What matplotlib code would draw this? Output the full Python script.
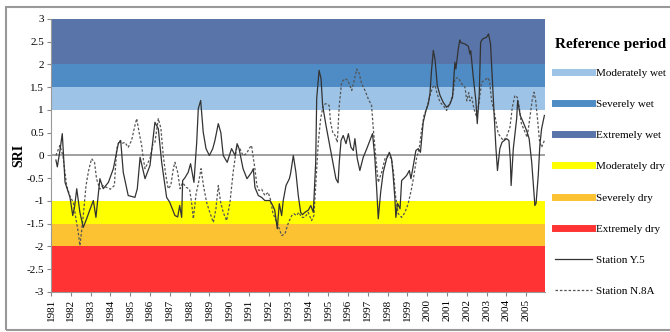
import matplotlib.pyplot as plt
from matplotlib.lines import Line2D
from matplotlib.patches import Rectangle

plt.rcParams["font.family"] = ["Liberation Serif", "DejaVu Serif"]

# SRI classes (lower, upper, colour, label)
class_labels = ["Moderately wet", "Severely wet", "Extremely wet",
                "Moderately dry", "Severely dry", "Extremely dry"]
class_low = [1.0, 1.5, 2.0, -1.5, -2.0, -3.0]
class_high = [1.5, 2.0, 3.0, -1.0, -1.5, -2.0]
class_colors = ["#9DC3E6", "#4F8BC4", "#5874A8", "#FFFF00", "#FDC232", "#FF3333"]

years = list(range(1981, 2006))

# Station Y.5 (solid)
y5_t = [1981.25, 1981.32, 1981.45, 1981.57, 1981.71, 1981.96, 1982.1, 1982.2, 1982.3,
        1982.46, 1982.63, 1982.8, 1983.0, 1983.14, 1983.27, 1983.47, 1983.64, 1983.9,
        1984.15, 1984.4, 1984.52, 1984.65, 1984.9, 1985.24, 1985.36, 1985.5, 1985.75,
        1986.0, 1986.2, 1986.25, 1986.42, 1986.59, 1986.84, 1987.0, 1987.26, 1987.4,
        1987.5, 1987.6, 1987.65, 1987.75, 1987.93, 1988.05, 1988.22, 1988.36, 1988.44,
        1988.56, 1988.69, 1988.83, 1989.0, 1989.17, 1989.28, 1989.45, 1989.58, 1989.7,
        1989.9, 1990.12, 1990.3, 1990.4, 1990.5, 1990.7, 1990.9, 1991.13, 1991.22,
        1991.3, 1991.47, 1991.64, 1991.8, 1992.06, 1992.2, 1992.3, 1992.43, 1992.53,
        1992.65, 1992.73, 1992.87, 1993.04, 1993.1, 1993.24, 1993.37, 1993.49, 1993.61,
        1993.7, 1993.82, 1994.0, 1994.12, 1994.25, 1994.37, 1994.42, 1994.54, 1994.64,
        1994.72, 1994.89, 1995.06, 1995.23, 1995.39, 1995.5, 1995.56, 1995.65, 1995.76,
        1995.9, 1996.02, 1996.15, 1996.27, 1996.35, 1996.47, 1996.6, 1996.77, 1996.95,
        1997.11, 1997.24, 1997.36, 1997.45, 1997.53, 1997.65, 1997.78, 1997.95, 1998.09,
        1998.2, 1998.27, 1998.37, 1998.42, 1998.5, 1998.63, 1998.71, 1998.83, 1998.96,
        1999.1, 1999.18, 1999.3, 1999.43, 1999.55, 1999.66, 1999.8, 1999.94, 2000.06,
        2000.14, 2000.22, 2000.31, 2000.4, 2000.51, 2000.65, 2000.81, 2000.98, 2001.15,
        2001.28, 2001.4, 2001.45, 2001.57, 2001.65, 2001.7, 2001.91, 2002.08, 2002.16,
        2002.2, 2002.33, 2002.46, 2002.53, 2002.63, 2002.7, 2002.8, 2003.0, 2003.1,
        2003.2, 2003.3, 2003.38, 2003.47, 2003.55, 2003.67, 2003.78, 2004.01, 2004.13,
        2004.2, 2004.24, 2004.35, 2004.52, 2004.57, 2004.7, 2004.85, 2005.02, 2005.15,
        2005.28, 2005.44, 2005.5, 2005.61, 2005.69, 2005.78, 2005.92]
y5_v = [-0.1, -0.25, 0.1, 0.48, -0.59, -0.92, -1.32, -1.1, -0.73,
        -1.25, -1.58, -1.39, -1.15, -0.99, -1.36, -0.51, -0.73, -0.59,
        -0.29, 0.26, 0.33, -0.37, -0.88, -0.92, -0.73, -0.04, -0.51,
        -0.22, 0.55, 0.73, 0.59, -0.15, -0.92, -1.03, -1.32, -1.35,
        -1.1, -1.36, -0.55, -0.5, -0.37, -0.18, -0.59, 0.29, 1.03,
        1.21, 0.51, 0.15, 0.0, 0.15, 0.33, 0.7, 0.5, 0.0,
        -0.15, 0.15, 0.0, 0.26, 0.15, -0.29, -0.51, -0.37, -0.29,
        -0.7, -0.88, -0.92, -0.99, -0.99, -1.1, -1.2, -1.61, -1.06,
        -1.32, -0.99, -0.66, -0.51, -0.4, 0.0, -0.37, -0.88, -1.25,
        -1.3, -1.25, -1.2, -1.1, -1.25, -0.15, 1.25, 1.87, 1.69,
        1.1, 0.66, 0.26, -0.15, -0.51, -0.6, -0.15, 0.33, 0.44,
        0.26, 0.48, 0.18, 0.11, 0.37, -0.07, -0.33, -0.04, 0.15,
        0.33, 0.48, -0.07, -0.74, -1.39, -0.81, -0.37, -0.07, 0.07,
        -0.07, -0.37, -0.95, -1.36, -1.05, -1.17, -0.55, -0.5, -0.44,
        -0.33, -0.51, -0.22, 0.11, 0.15, 0.07, 0.73, 0.99, 1.14,
        1.36, 1.87, 2.31, 2.1, 1.54, 1.32, 1.17, 1.06, 1.13,
        1.28, 2.05, 1.9, 2.34, 2.54, 2.48, 2.45, 2.4, 2.23,
        2.3, 1.72, 1.2, 0.7, 1.35, 2.49, 2.56, 2.6, 2.67,
        2.45, 1.58, 0.92, 0.18, -0.33, 0.15, 0.29, 0.37, 0.33,
        -0.1, -0.66, 0.15, 0.81, 1.21, 0.88, 0.73, 0.55, 0.37,
        -0.15, -1.1, -1.05, -0.44, 0.22, 0.59, 0.88]

# Station N.8A (dotted)
n8a_t = [1981.25, 1981.45, 1981.6, 1981.79, 1981.96, 1982.13, 1982.26, 1982.38, 1982.46,
         1982.55, 1982.63, 1982.77, 1982.9, 1983.05, 1983.2, 1983.3, 1983.47, 1983.64,
         1983.8, 1984.0, 1984.2, 1984.32, 1984.45, 1984.57, 1984.73, 1984.9, 1985.07,
         1985.24, 1985.33, 1985.45, 1985.58, 1985.66, 1985.75, 1985.87, 1986.0, 1986.15,
         1986.25, 1986.42, 1986.55, 1986.67, 1986.8, 1986.92, 1987.05, 1987.18, 1987.26,
         1987.4, 1987.52, 1987.65, 1987.83, 1988.0, 1988.1, 1988.19, 1988.33, 1988.45,
         1988.58, 1988.7, 1988.86, 1989.02, 1989.2, 1989.33, 1989.45, 1989.57, 1989.7,
         1989.87, 1990.04, 1990.2, 1990.34, 1990.41, 1990.54, 1990.7, 1990.87, 1991.05,
         1991.13, 1991.2, 1991.3, 1991.4, 1991.5, 1991.64, 1991.8, 1991.97, 1992.1,
         1992.2, 1992.4, 1992.53, 1992.65, 1992.82, 1992.94, 1993.04, 1993.16, 1993.27,
         1993.4, 1993.52, 1993.66, 1993.82, 1993.99, 1994.16, 1994.28, 1994.38, 1994.5,
         1994.62, 1994.75, 1994.88, 1995.05, 1995.12, 1995.23, 1995.35, 1995.46, 1995.56,
         1995.68, 1995.85, 1996.0, 1996.19, 1996.3, 1996.44, 1996.57, 1996.69, 1996.86,
         1997.02, 1997.19, 1997.28, 1997.41, 1997.53, 1997.7, 1997.87, 1998.04, 1998.2,
         1998.3, 1998.4, 1998.54, 1998.71, 1998.88, 1999.04, 1999.21, 1999.33, 1999.46,
         1999.6, 1999.7, 1999.84, 1999.97, 2000.14, 2000.28, 2000.4, 2000.5, 2000.65,
         2000.81, 2000.98, 2001.15, 2001.32, 2001.4, 2001.57, 2001.74, 2001.91, 2002.0,
         2002.1, 2002.16, 2002.25, 2002.36, 2002.5, 2002.63, 2002.75, 2002.92, 2003.08,
         2003.16, 2003.25, 2003.42, 2003.59, 2003.84, 2004.0, 2004.18, 2004.3, 2004.43,
         2004.55, 2004.65, 2004.76, 2004.94, 2005.05, 2005.19, 2005.3, 2005.4, 2005.48,
         2005.58, 2005.67, 2005.78, 2005.92]
n8a_v = [0.0, 0.22, 0.0, -0.66, -0.9, -1.03, -1.39, -1.7, -1.98,
         -1.65, -1.32, -0.66, -0.33, -0.07, -0.15, -0.51, -0.74, -0.66,
         -0.7, -0.74, -0.66, 0.15, 0.33, 0.26, 0.29, 0.18, 0.33,
         0.66, 0.81, 0.51, 0.22, -0.07, -0.29, -0.18, -0.07, 0.26,
         0.29, 0.81, 0.6, 0.0, -0.44, -0.73, -0.66, -0.29, -0.15,
         -0.37, -0.73, -0.6, -0.7, -0.74, -1.03, -1.39, -0.84, -0.6,
         -0.29, -0.66, -1.03, -1.25, -1.47, -1.17, -0.66, -1.03, -1.25,
         -1.43, -1.03, -0.37, 0.07, 0.22, 0.15, 0.0, 0.04, 0.18,
         0.22, 0.0, -0.29, -0.66, -0.77, -0.74, -0.88, -0.81, -0.99,
         -1.25, -1.47, -1.61, -1.76, -1.72, -1.54, -1.43, -1.32, -1.28,
         -1.32, -1.25, -1.36, -1.36, -1.25, -1.43, -1.32, -0.59, 0.29,
         0.81, 1.1, 1.14, 1.1, 0.73, 0.51, 0.44, 0.29, 1.1,
         1.61, 1.69, 1.65, 1.43, 1.62, 1.9, 1.8, 1.58, 1.43,
         1.25, 1.1, 0.59, -0.07, -0.59, -0.37, -0.07, 0.0, -0.07,
         -0.37, -0.88, -1.28, -1.36, -1.25, -1.06, -0.73, -0.44, -0.07,
         0.15, 0.51, 0.88, 1.03, 1.32, 1.5, 1.54, 1.36, 1.17,
         1.1, 0.99, 1.14, 1.39, 1.69, 1.71, 1.58, 1.5, 1.2,
         1.38, 1.2, 1.28, 1.03, 0.84, 1.2, 1.61, 1.66, 1.71,
         1.61, 1.21, 0.88, 0.48, 0.33, 0.4, 0.62, 1.06, 1.32,
         1.28, 1.06, 0.7, 0.51, 0.4, 0.84, 1.21, 1.39, 1.21,
         0.77, 0.33, 0.18, 0.33]

fig = plt.figure(figsize=(6.7, 3.32), dpi=100)
ax = fig.add_axes([0.0761, 0.1205, 0.7373, 0.8223])

for lo, hi, c in zip(class_low, class_high, class_colors):
    ax.axhspan(lo, hi, color=c, lw=0, zorder=0)
ax.axhline(0, color="#999999", lw=1.3, zorder=1)

ax.plot(y5_t, y5_v, color="#333333", lw=0.9, zorder=3)
ax.plot(n8a_t, n8a_v, color="#555555", lw=0.9, ls=(0, (2, 1.5)), zorder=2)

ax.set_xlim(1981, 2005.95)
ax.set_ylim(-3, 3)
ax.set_xticks(years)
ax.set_xticklabels([str(y) for y in years], rotation=90, fontsize=8)
ax.set_yticks([-3, -2.5, -2, -1.5, -1, -0.5, 0, 0.5, 1, 1.5, 2, 2.5, 3])
ax.set_yticklabels(["-3", "-2.5", "-2", "-1.5", "-1", "-0.5", "0", "0.5", "1",
                    "1.5", "2", "2.5", "3"], fontsize=8)
ax.tick_params(length=3, color="#888888", pad=2)
for s in ["top", "right"]:
    ax.spines[s].set_visible(False)
for s in ["left", "bottom"]:
    ax.spines[s].set_color("#999999")
ax.set_ylabel("SRI", fontsize=10, fontweight="bold", labelpad=1)

handles = [Line2D([], [], color=c, lw=5) for c in class_colors]
handles.append(Line2D([], [], color="#333333", lw=0.9))
handles.append(Line2D([], [], color="#555555", lw=0.9, ls=(0, (2, 1.5))))
leg = fig.legend(handles, class_labels + ["Station Y.5", "Station N.8A"],
                 loc="upper left", bbox_to_anchor=(0.813, 0.915), frameon=False,
                 fontsize=8, handlelength=3.4, labelspacing=1.93, handletextpad=0.3,
                 title="Reference period", alignment="left",
                 title_fontproperties={"weight": "bold", "size": 11})
leg._legend_box.sep = 12

fig.patches.append(Rectangle((0.009, 0.006), 1.2, 0.972, transform=fig.transFigure,
                             fill=False, ec="#999999", lw=1.5))

fig.savefig("out.png", dpi=100)
